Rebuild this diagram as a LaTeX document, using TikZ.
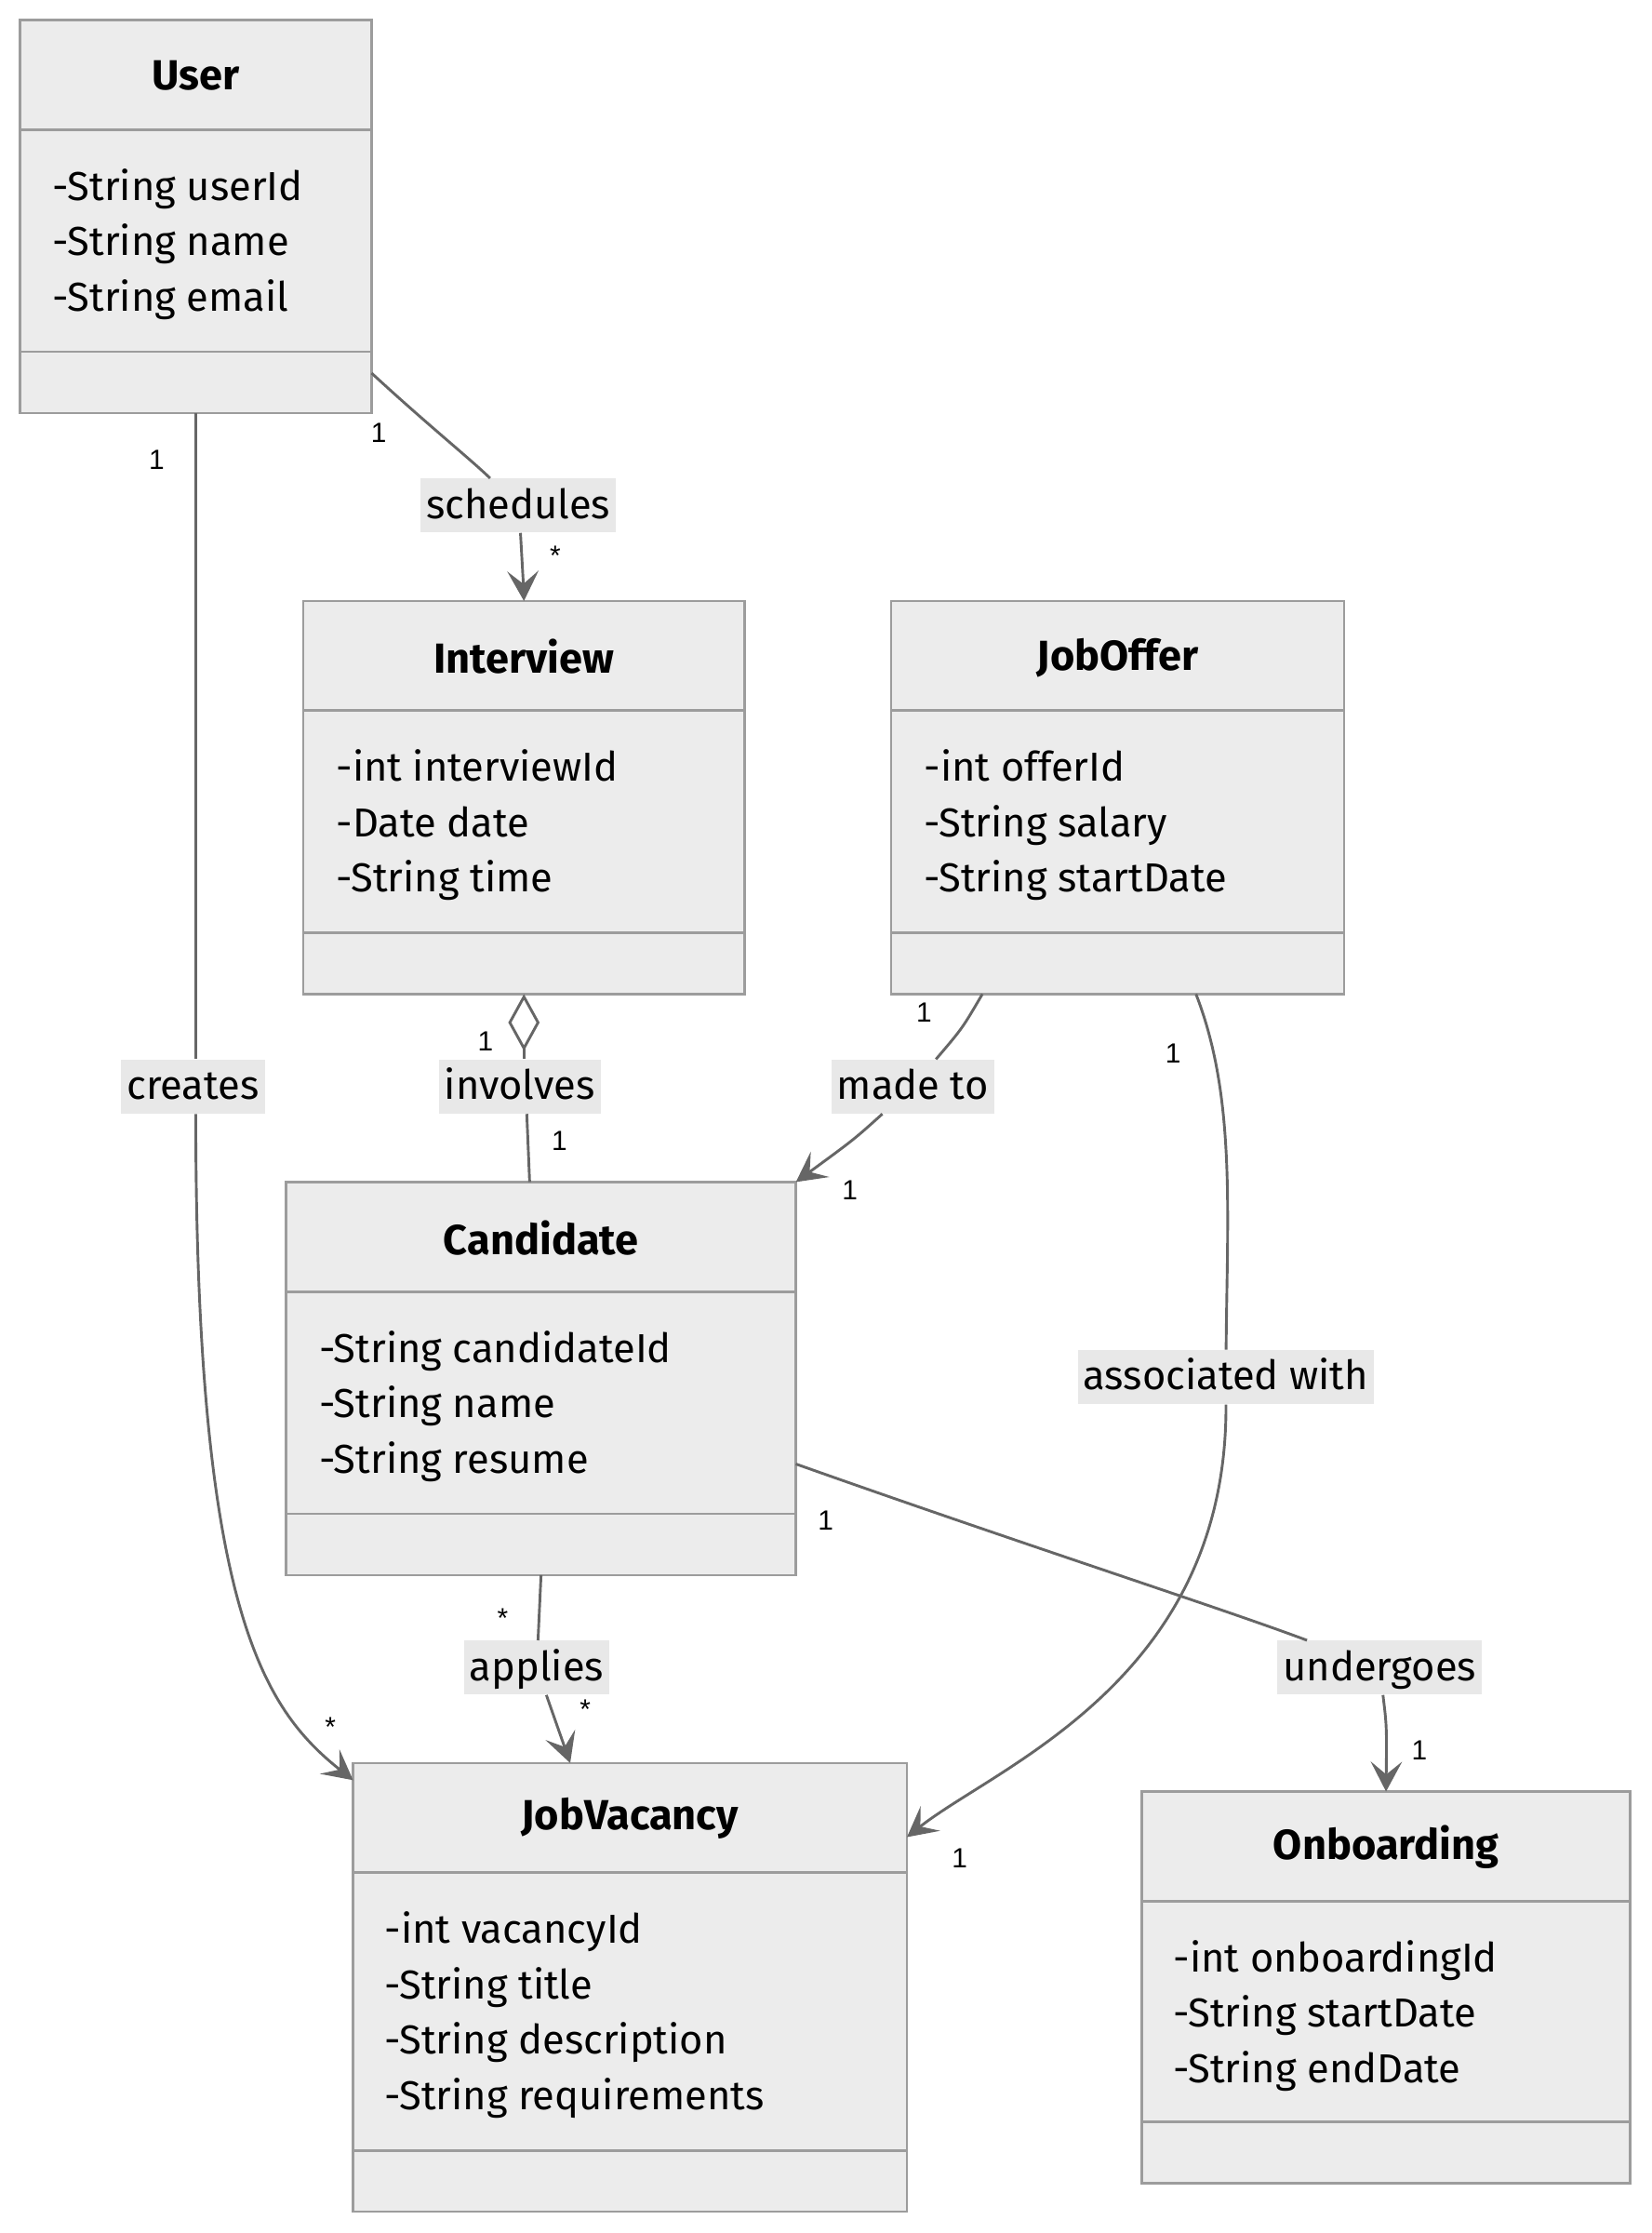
\documentclass[tikz,border=0pt]{standalone}
\usepackage{fontspec}
\setmainfont{Fira Sans}
\newfontfamily\multfont{Liberation Sans}
\usetikzlibrary{positioning, calc, arrows.meta, shapes.geometric}

\definecolor{boxfill}{HTML}{ECECEC}
\definecolor{boxline}{HTML}{9C9C9C}
\definecolor{edgeline}{HTML}{666666}
\definecolor{labelfill}{HTML}{E8E8E8}

\tikzset{
  classbox/.style={draw=boxline, fill=boxfill, line width=1.7pt, rectangle, inner sep=0pt, outer sep=0pt},
  sepline/.style={draw=boxline, line width=1.7pt},
  classname/.style={font=\fontsize{29.5}{34}\selectfont\bfseries, inner sep=0pt},
  attr/.style={font=\fontsize{28.4}{33}\selectfont, anchor=west, inner sep=0pt, text height=20pt, text depth=6pt},
  edgelabel/.style={fill=labelfill, font=\fontsize{28.4}{33}\selectfont, inner xsep=4pt, inner ysep=5pt, text height=23pt, text depth=5pt},
  assoc/.style={draw=edgeline, line width=1.9pt},
  tip/.style={-{Stealth[length=21pt, width=22pt, inset=9pt]}},
  mult/.style={font=\multfont\fontsize{19.5}{22}\selectfont, inner sep=0pt},
}

\begin{document}
\begin{tikzpicture}[x=1pt, y=1pt]
  \useasboundingbox (0,0) rectangle (1160.3,-1568);

  % classes
  \node[classbox, minimum width=247pt, minimum height=276pt] (user)      at (137.5,-152)  {};
  \node[classbox, minimum width=310pt, minimum height=276pt] (interview) at (368,-560)    {};
  \node[classbox, minimum width=318pt, minimum height=276pt] (joboffer)  at (785,-560)    {};
  \node[classbox, minimum width=358pt, minimum height=276pt] (candidate) at (380,-968)    {};
  \node[classbox, minimum width=389pt, minimum height=315pt] (jobvac)    at (442.5,-1395.5) {};
  \node[classbox, minimum width=343pt, minimum height=275pt] (onboard)   at (973.5,-1395.5) {};

  \foreach \c in {user, interview, joboffer, candidate, jobvac, onboard} {
    \draw[sepline] ($(\c.north west)+(0,-77)$) -- ($(\c.north east)+(0,-77)$);
    \draw[sepline] ($(\c.south west)+(0,43)$) -- ($(\c.south east)+(0,43)$);
  }

  \node[classname] (user title)      at ($(user.north)+(0,-39)$)      {User};
  \node[classname] (interview title) at ($(interview.north)+(0,-39)$) {Interview};
  \node[classname] (joboffer title)  at ($(joboffer.north)+(0,-40)$)  {JobOffer};
  \node[classname] (candidate title) at ($(candidate.north)+(0,-39)$) {Candidate};
  \node[classname] (jobvac title)    at ($(jobvac.north)+(0,-39)$)    {JobVacancy};
  \node[classname] (onboard title)   at ($(onboard.north)+(0,-39)$)   {Onboarding};

  \foreach \a [count=\i] in {-String userId, -String name, -String email}
    \node[attr] (user attr\i) at ($(user.north west)+(23,{-80.5-39*\i})$) {\a};
  \foreach \a [count=\i] in {-int interviewId, -Date date, -String time}
    \node[attr] (interview attr\i) at ($(interview.north west)+(23,{-80.5-39*\i})$) {\a};
  \foreach \a [count=\i] in {-int offerId, -String salary, -String startDate}
    \node[attr] (joboffer attr\i) at ($(joboffer.north west)+(23,{-80.5-39*\i})$) {\a};
  \foreach \a [count=\i] in {-String candidateId, -String name, -String resume}
    \node[attr] (candidate attr\i) at ($(candidate.north west)+(23,{-80.5-39*\i})$) {\a};
  \foreach \a [count=\i] in {-int vacancyId, -String title, -String description, -String requirements}
    \node[attr] (jobvac attr\i) at ($(jobvac.north west)+(22,{-80.5-39*\i})$) {\a};
  \foreach \a [count=\i] in {-int onboardingId, -String startDate, -String endDate}
    \node[attr] (onboard attr\i) at ($(onboard.north west)+(22,{-80.5-39*\i})$) {\a};

  % edge labels
  \node[edgelabel] (schedules) at (364,-355)   {schedules};
  \node[edgelabel] (creates)   at (135.5,-763) {creates};
  \node[edgelabel] (involves)  at (365,-763)   {involves};
  \node[edgelabel] (madeto)    at (641,-763)   {made to};
  \node[edgelabel] (assocwith) at (861,-967)   {associated with};
  \node[edgelabel] (undergoes) at (969,-1171)  {undergoes};
  \node[edgelabel] (applies)   at (377,-1171)  {applies};

  % connectors
  \draw[assoc] (user.south) -- ($(creates.north)+(2,0)$);
  \draw[assoc, tip] ($(creates.south)+(2,0)$) .. controls (137.5,-1130) and (185,-1200) .. ($(jobvac.north west)+(0,-12)$);

  \draw[assoc] ($(user.south east)+(0,28)$) .. controls (300,-298) and (330,-322) .. (schedules);
  \draw[assoc, tip] (schedules) .. controls (367,-392) .. (interview.north);

  \draw[assoc, {Diamond[open, length=40pt, width=22pt]}-] (interview.south) -- ($(involves.north)+(3,0)$);
  \draw[assoc] ($(involves.south)+(5,0)$) -- ($(candidate.north)+(-8,0)$);

  \draw[assoc] ($(joboffer.south west)+(64,0)$) .. controls (676,-722) .. (madeto);
  \draw[assoc, tip] (madeto) .. controls (600,-800) .. (candidate.north east);

  \draw[assoc] ($(joboffer.south west)+(214,0)$) .. controls (868,-770) and (862,-850) .. (assocwith);
  \draw[assoc, tip] (assocwith) .. controls (862,-1180) and (700,-1240) .. ($(jobvac.north east)+(0,-52)$);

  \draw[assoc] ($(candidate.south east)+(0,78)$) .. controls (720,-1085) and (860,-1130) .. (undergoes);
  \draw[assoc, tip] (undergoes) .. controls (974,-1212) .. (onboard.north);

  \draw[assoc] (candidate.south) -- (applies);
  \draw[assoc, tip] (applies) -- ($(jobvac.north)+(-42,0)$);

  % multiplicities
  \node[mult] (m creates user)   at (110,-323)  {1};
  \node[mult] (m creates vac)    at (232,-1213) {*};
  \node[mult] (m sched user)     at (266,-304)  {1};
  \node[mult] (m sched int)      at (390,-390)  {*};
  \node[mult] (m inv int)        at (341,-731)  {1};
  \node[mult] (m inv cand)       at (393,-801)  {1};
  \node[mult] (m made offer)     at (649,-711)  {1};
  \node[mult] (m made cand)      at (597,-836)  {1};
  \node[mult] (m assoc offer)    at (824,-740)  {1};
  \node[mult] (m assoc vac)      at (674,-1305) {1};
  \node[mult] (m under cand)     at (580,-1068) {1};
  \node[mult] (m under onb)      at (997,-1229) {1};
  \node[mult] (m apply cand)     at (353,-1136) {*};
  \node[mult] (m apply vac)      at (411,-1200) {*};
\end{tikzpicture}
\end{document}
